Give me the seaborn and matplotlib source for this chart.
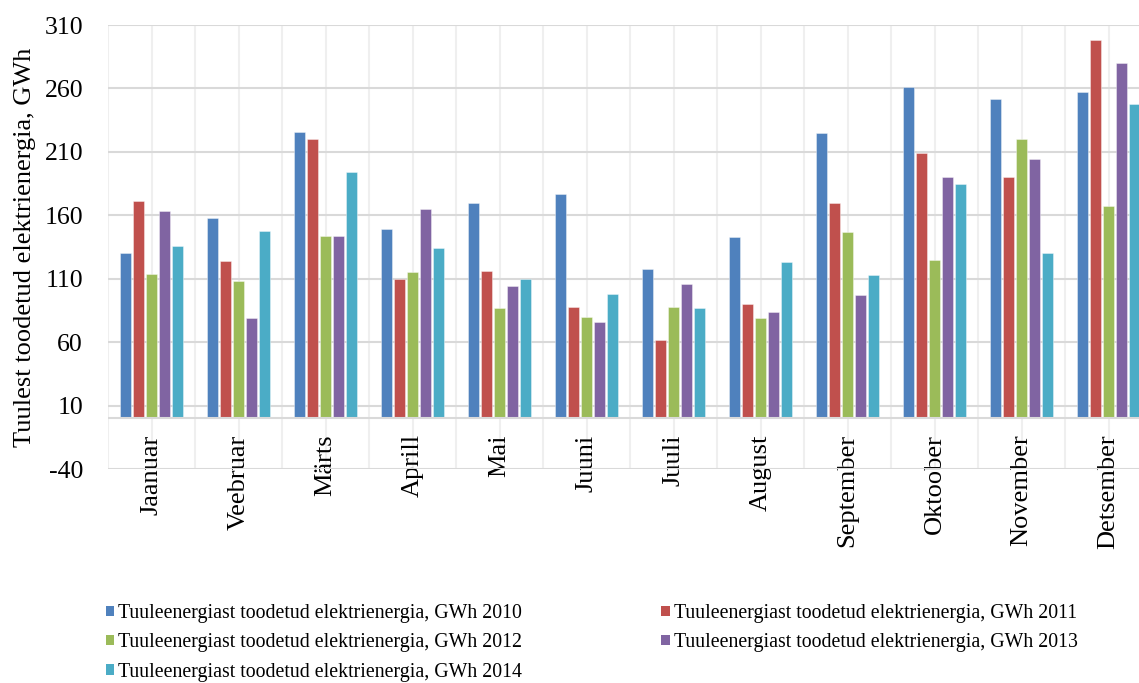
import numpy as np
import pandas as pd
import matplotlib
matplotlib.use("Agg")
import matplotlib.pyplot as plt
import seaborn as sns
from matplotlib.patches import Patch

# Monthly wind power generation, GWh
months = ["Jaanuar", "Veebruar", "Märts", "Aprill", "Mai", "Juuni",
          "Juuli", "August", "September", "Oktoober", "November", "Detsember"]
years = ["2010", "2011", "2012", "2013", "2014"]

gwh_2010 = [130, 158, 226, 149, 170, 177, 118, 143, 225, 261, 252, 257]
gwh_2011 = [171, 124, 220, 110, 116, 88, 62, 90, 170, 209, 190, 298]
gwh_2012 = [114, 108, 144, 115, 87, 80, 88, 79, 147, 125, 220, 167]
gwh_2013 = [163, 79, 144, 165, 104, 76, 106, 84, 97, 190, 204, 280]
gwh_2014 = [136, 148, 194, 134, 110, 98, 87, 123, 113, 185, 130, 248]

series_name = "Tuuleenergiast toodetud elektrienergia, GWh"
y_label = "Tuulest toodetud elektrienergia, GWh"
colors = ["#4F81BD", "#C0504D", "#9BBB59", "#8064A2", "#4BACC6"]

df = pd.DataFrame({
    "Kuu": months * len(years),
    "Aasta": np.repeat(years, len(months)),
    "GWh": gwh_2010 + gwh_2011 + gwh_2012 + gwh_2013 + gwh_2014,
})

sns.set_theme(style="white")
plt.rcParams["font.family"] = ["Liberation Serif", "DejaVu Serif"]
plt.rcParams["axes.unicode_minus"] = False
plt.rcParams["text.color"] = "black"

W, H = 1139, 683
fig = plt.figure(figsize=(W / 100, H / 100), dpi=100)
ax = fig.add_axes([108 / W, 1 - 469 / H, 1044 / W, 444 / H])

sns.barplot(data=df, x="Kuu", y="GWh", hue="Aasta", order=months,
            hue_order=years, palette=colors, saturation=1, width=0.75,
            gap=0.18, errorbar=None, legend=False, ax=ax,
            edgecolor=(1, 1, 1, 0.45), linewidth=0.6)

ax.set_ylim(-40, 310)
ax.set_xlim(-0.5, 11.5)
ax.set_yticks(np.arange(-40, 311, 50))
ax.set_xticks(np.arange(len(months)))
ax.set_xticklabels(months)
ax.set_xticks(np.arange(-0.5, 12, 1.0), minor=True)

ax.set_axisbelow(True)
ax.grid(axis="y", which="major", color="#d9d9d9", lw=1.5)
ax.grid(axis="x", which="both", color="#efefef", lw=1.5)
ax.axhline(0, color="#d9d9d9", lw=1.5, zorder=1.5)

for s in ax.spines.values():
    s.set_visible(False)

ax.tick_params(axis="y", length=0, pad=18, labelsize=18.5, labelcolor="black")
ax.tick_params(axis="x", which="major", length=0, pad=-25, labelsize=19,
               labelrotation=90, labelcolor="black")
ax.tick_params(axis="x", which="minor", length=0)
ax.set_xlabel("")
ax.set_ylabel("")

fig.text(25 / W, 1 - 247 / H, y_label, rotation=90, ha="center",
         va="center", fontsize=19, color="black")

# Legend laid out row by row in two columns
handles = [Patch(facecolor=c, edgecolor="none") for c in colors]
labels = [f"{series_name} {y}" for y in years]
order = [0, 2, 4, 1, 3]
fig.legend([handles[i] for i in order], [labels[i] for i in order],
           ncol=2, loc="upper left", bbox_to_anchor=(106 / W, 1 - 604 / H),
           frameon=False, fontsize=14.3, handlelength=0.42, handleheight=0.42,
           handletextpad=0.2, columnspacing=7.0, labelspacing=0.52,
           borderpad=0, borderaxespad=0)

fig.savefig("out.png", dpi=100)
